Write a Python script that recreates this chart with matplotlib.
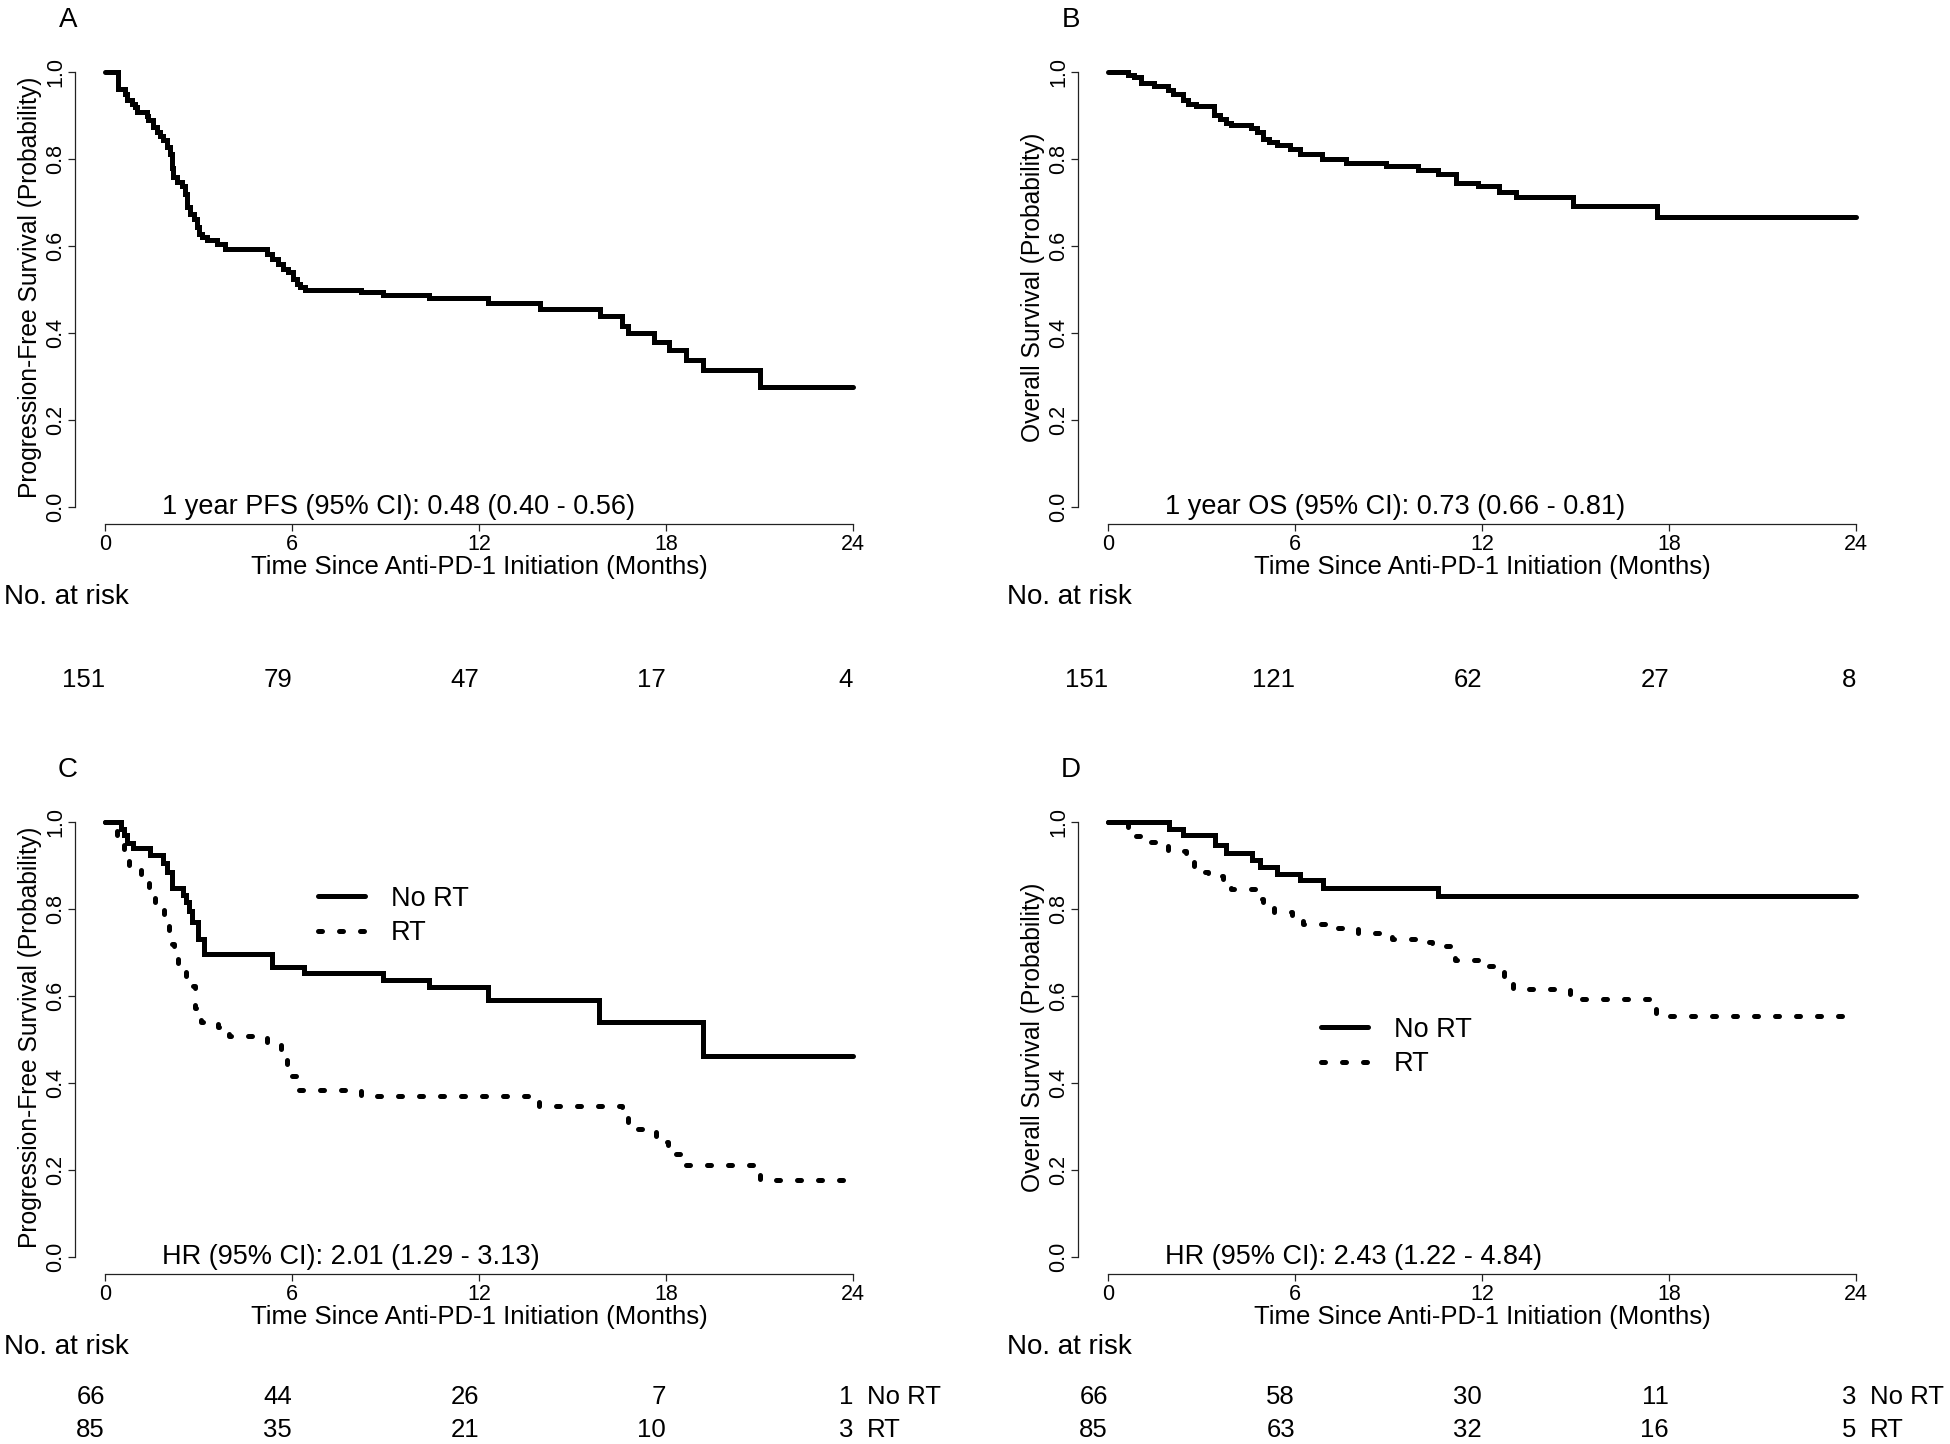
import matplotlib
matplotlib.use("Agg")
import matplotlib.pyplot as plt
from matplotlib.transforms import blended_transform_factory
from matplotlib.lines import Line2D

plt.rcParams['font.family'] = ['Liberation Sans', 'DejaVu Sans']

# ---- data (time in months, survival probability) ----
# A: progression-free survival, all patients
pfs_t = [0.43, 0.64, 0.70, 0.86, 0.96, 1.02, 1.34, 1.39, 1.55, 1.66, 1.76, 1.87, 1.98,
         2.09, 2.14, 2.19, 2.30, 2.46, 2.57, 2.62, 2.73, 2.84, 2.94, 3.00, 3.10, 3.26,
         3.58, 3.85, 5.19, 5.35, 5.56, 5.72, 5.88, 6.04, 6.15, 6.26, 6.40, 8.22, 8.92,
         10.39, 12.30, 13.96, 15.89, 16.59, 16.77, 17.60, 18.10, 18.65, 19.20, 21.00]
pfs_s = [0.962, 0.950, 0.935, 0.927, 0.920, 0.908, 0.900, 0.889, 0.874, 0.862, 0.854,
         0.843, 0.828, 0.812, 0.780, 0.759, 0.747, 0.739, 0.720, 0.690, 0.674, 0.663,
         0.644, 0.628, 0.620, 0.613, 0.605, 0.594, 0.582, 0.571, 0.559, 0.548, 0.540,
         0.525, 0.513, 0.506, 0.500, 0.494, 0.487, 0.480, 0.470, 0.456, 0.438, 0.417,
         0.400, 0.380, 0.360, 0.339, 0.314, 0.276]

# B: overall survival, all patients
os_t = [0.64, 0.83, 1.05, 1.47, 1.93, 2.08, 2.39, 2.58, 2.82, 3.41, 3.59, 3.78, 3.96,
        4.60, 4.79, 4.97, 5.16, 5.43, 5.84, 6.17, 6.87, 7.64, 8.93, 9.95, 10.60, 11.18,
        11.88, 12.53, 13.08, 14.92, 17.60]
os_s = [0.993, 0.988, 0.974, 0.967, 0.959, 0.949, 0.936, 0.926, 0.921, 0.901, 0.893,
        0.883, 0.879, 0.872, 0.862, 0.845, 0.838, 0.832, 0.823, 0.811, 0.799, 0.791,
        0.785, 0.774, 0.766, 0.745, 0.737, 0.725, 0.713, 0.692, 0.667]

# C: PFS by radiotherapy
pfs_nort_t = [0.50, 0.60, 0.72, 0.90, 1.45, 1.87, 2.00, 2.15, 2.50, 2.60, 2.70, 2.80,
              2.98, 3.17, 5.37, 6.38, 8.92, 10.39, 12.30, 15.85, 19.20]
pfs_nort_s = [0.985, 0.970, 0.952, 0.940, 0.924, 0.905, 0.885, 0.848, 0.833, 0.815,
              0.795, 0.770, 0.730, 0.697, 0.667, 0.652, 0.636, 0.621, 0.591, 0.540, 0.462]
pfs_rt_t = [0.40, 0.60, 0.77, 1.14, 1.42, 1.60, 1.88, 2.06, 2.20, 2.34, 2.61, 2.89, 3.07,
            3.62, 3.99, 5.19, 5.65, 5.83, 6.01, 6.20, 8.22, 13.92, 16.59, 16.77, 17.42,
            17.69, 18.06, 18.61, 21.00]
pfs_rt_s = [0.965, 0.938, 0.901, 0.881, 0.848, 0.811, 0.787, 0.720, 0.696, 0.672, 0.622,
            0.573, 0.540, 0.528, 0.507, 0.490, 0.475, 0.442, 0.417, 0.384, 0.369, 0.347,
            0.323, 0.294, 0.290, 0.265, 0.236, 0.212, 0.176]

# D: OS by radiotherapy
os_nort_t = [1.97, 2.39, 3.44, 3.78, 4.61, 4.88, 5.43, 6.17, 6.91, 10.59]
os_nort_s = [0.985, 0.970, 0.946, 0.928, 0.913, 0.897, 0.880, 0.866, 0.849, 0.829]
os_rt_t = [0.64, 0.83, 1.29, 1.93, 2.49, 2.76, 3.22, 3.68, 3.96, 4.70, 4.97, 5.34, 5.89,
           6.26, 7.18, 8.01, 9.12, 9.85, 10.41, 11.14, 11.88, 12.34, 12.71, 12.99, 14.83,
           17.59]
os_rt_s = [0.980, 0.967, 0.953, 0.934, 0.913, 0.885, 0.876, 0.868, 0.847, 0.823, 0.806,
           0.794, 0.781, 0.765, 0.757, 0.744, 0.732, 0.724, 0.716, 0.683, 0.670, 0.658,
           0.637, 0.617, 0.592, 0.555]

risk_times = [0, 6, 12, 18, 24]
risk_a = [151, 79, 47, 17, 4]
risk_b = [151, 121, 62, 27, 8]
risk_c_nort = [66, 44, 26, 7, 1]
risk_c_rt = [85, 35, 21, 10, 3]
risk_d_nort = [66, 58, 30, 11, 3]
risk_d_rt = [85, 63, 32, 16, 5]

W, H = 1950, 1444
fig = plt.figure(figsize=(W / 100, H / 100), dpi=100)


def fx(p):
    return p / W


def fy(p):
    return 1 - p / H


LW = 3.6
DOT = (0, (0.8, 3.4))


def km(ax, t, s, ls='-'):
    tt = [0] + list(t) + [24]
    ss = [1.0] + list(s) + [s[-1]]
    ax.step(tt, ss, where='post', color='black', lw=LW, linestyle=ls,
            solid_capstyle='round', dash_capstyle='round', solid_joinstyle='miter')


def panel(dx, dy, letter, ylab, note, risk_rows, groups=None):
    ax = fig.add_axes([fx(75.1 + dx), fy(524.4 + dy), (883 - 75.1) / W, (524.4 - 54.6) / H])
    ax.set_xlim(-0.96, 24.96)
    ax.set_ylim(-0.04, 1.04)
    for side in ['top', 'right']:
        ax.spines[side].set_visible(False)
    ax.spines['left'].set_bounds(0, 1)
    ax.spines['bottom'].set_bounds(0, 24)
    for side in ['left', 'bottom']:
        ax.spines[side].set_linewidth(0.9)
        ax.spines[side].set_color('#222222')
    ax.set_xticks(risk_times)
    ax.set_yticks([0, 0.2, 0.4, 0.6, 0.8, 1.0])
    ax.set_yticklabels(['0.0', '0.2', '0.4', '0.6', '0.8', '1.0'])
    ax.tick_params(axis='both', length=5, width=0.9, color='#222222', labelsize=15.5)
    ax.tick_params(axis='x', pad=2)
    ax.tick_params(axis='y', pad=1.5, labelrotation=90)
    for lab in ax.get_yticklabels():
        lab.set_va('center')

    fig.text(fx(68 + dx), fy(20 + dy), letter, fontsize=20, ha='center', va='center')
    fig.text(fx(30 + dx), fy(287 + dy), ylab, fontsize=17.7, rotation=90,
             ha='center', va='center')
    fig.text(fx(479 + dx), fy(567 + dy), 'Time Since Anti-PD-1 Initiation (Months)',
             fontsize=18.5, ha='center', va='center')
    fig.text(fx(4 + dx), fy(597 + dy), 'No. at risk', fontsize=20, ha='left', va='center')
    ax.text(1.83, 0.0, note, fontsize=19.5, ha='left', va='center')

    tr = blended_transform_factory(ax.transData, fig.transFigure)
    if groups is None:
        rows_y = [680 + dy]
    else:
        rows_y = [647 + dy, 680 + dy]
    for i, row in enumerate(risk_rows):
        for xt, n in zip(risk_times, row):
            ax.text(xt, fy(rows_y[i]), str(n), transform=tr, fontsize=18.5,
                    ha='right', va='center', clip_on=False)
        if groups is not None:
            ax.text(24.45, fy(rows_y[i]), groups[i], transform=tr, fontsize=18.5,
                    ha='left', va='center', clip_on=False)
    return ax


ax_a = panel(0, 0, 'A', 'Progression-Free Survival (Probability)',
             '1 year PFS (95% CI): 0.48 (0.40 - 0.56)', [risk_a])
km(ax_a, pfs_t, pfs_s)

ax_b = panel(1003, 0, 'B', 'Overall Survival (Probability)',
             '1 year OS (95% CI): 0.73 (0.66 - 0.81)', [risk_b])
km(ax_b, os_t, os_s)

ax_c = panel(0, 750, 'C', 'Progression-Free Survival (Probability)',
             'HR (95% CI): 2.01 (1.29 - 3.13)', [risk_c_nort, risk_c_rt], ['No RT', 'RT'])
km(ax_c, pfs_nort_t, pfs_nort_s)
km(ax_c, pfs_rt_t, pfs_rt_s, DOT)

ax_d = panel(1003, 750, 'D', 'Overall Survival (Probability)',
             'HR (95% CI): 2.43 (1.22 - 4.84)', [risk_d_nort, risk_d_rt], ['No RT', 'RT'])
km(ax_d, os_nort_t, os_nort_s)
km(ax_d, os_rt_t, os_rt_s, DOT)

handles = [Line2D([], [], color='black', lw=LW, solid_capstyle='round'),
           Line2D([], [], color='black', lw=LW, linestyle=DOT, dash_capstyle='round')]
for ax, x0, cy in [(ax_c, 318, 916), (ax_d, 1321, 1047)]:
    ax.legend(handles, ['No RT', 'RT'], loc='center left', frameon=False,
              bbox_to_anchor=(fx(x0), fy(cy)),
              bbox_transform=fig.transFigure, fontsize=19.5, handlelength=1.75,
              handletextpad=0.95, labelspacing=0.3, borderpad=0, borderaxespad=0)

fig.savefig('out.png', dpi=100)
